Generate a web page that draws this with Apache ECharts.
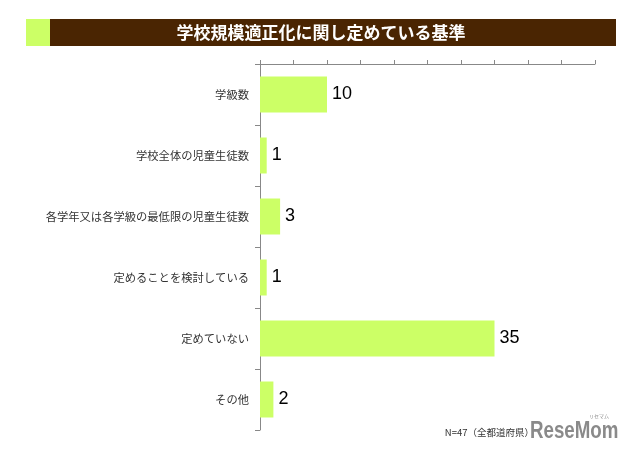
<!DOCTYPE html>
<html><head><meta charset="utf-8">
<script src="https://cdn.jsdelivr.net/npm/echarts@6/dist/echarts.min.js"></script>
<style>html,body{margin:0;padding:0;background:#fff}#c{width:640px;height:449px}</style>
</head><body><div id="c"></div>
<script>
const categories = ['学級数','学校全体の児童生徒数','各学年又は各学級の最低限の児童生徒数','定めることを検討している','定めていない','その他'];
const values = [10, 1, 3, 1, 35, 2];
const titleText = '学校規模適正化に関し定めている基準';
const noteText = 'N=47（全都道府県）';

const chart = echarts.init(document.getElementById('c'), null, {renderer:'canvas'});
chart.setOption({
  animation:false,
  backgroundColor:'#fff',
  graphic:[
    {type:'rect', shape:{x:26,y:19,width:24,height:27}, style:{fill:'#CCFF66'}},
    {type:'rect', shape:{x:50,y:19,width:566,height:27}, style:{fill:'#4A2502'}},
    {type:'text', x:321, y:33, style:{text:titleText, fill:'#fff', font:'bold 17px "Noto Sans CJK JP"', align:'center', verticalAlign:'middle'}},
    {type:'text', x:534, y:432, style:{text:noteText, fill:'#333', font:'9.5px "Noto Sans CJK JP"', align:'right', verticalAlign:'middle'}},
    {type:'text', x:530, y:431, scaleX:0.78, style:{text:'ReseMom', fill:'#8a8a8a', font:'bold 24px "Liberation Sans"', align:'left', verticalAlign:'middle'}},
    {type:'text', x:599, y:416, style:{text:'リセマム', fill:'#8a8a8a', font:'5px "Noto Sans CJK JP"', align:'center', verticalAlign:'middle'}}
  ],
  grid:{left:260, right:45, top:64, bottom:19, containLabel:false},
  xAxis:{
    type:'value', position:'top', min:0, max:50, interval:5,
    axisLine:{show:true, lineStyle:{color:'#888', width:1}},
    axisTick:{show:true, length:4, lineStyle:{color:'#888'}},
    axisLabel:{show:false},
    splitLine:{show:false}
  },
  yAxis:{
    type:'category', data:categories, inverse:true,
    axisLine:{show:true, lineStyle:{color:'#888', width:1}},
    axisTick:{show:true, length:5, alignWithLabel:false, lineStyle:{color:'#888'}},
    axisLabel:{color:'#333', fontSize:11.3, fontFamily:'Noto Sans CJK JP', margin:11}
  },
  series:[{
    type:'bar', data:values, barWidth:36,
    itemStyle:{color:'#CCFF66'},
    label:{show:true, position:'right', distance:5, color:'#000', fontSize:18, fontFamily:'Liberation Sans'}
  }]
});
</script></body></html>
